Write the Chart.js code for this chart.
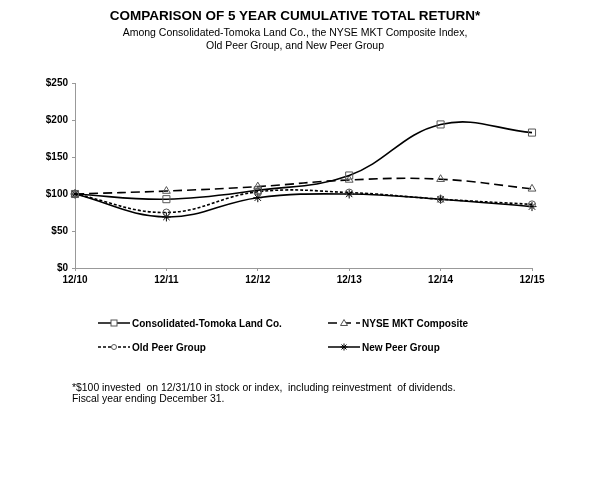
<!DOCTYPE html>
<html>
<head>
<meta charset="utf-8">
<script src="https://cdn.jsdelivr.net/npm/chart.js"></script>
<style>
  body { margin: 0; background: #fff; font-family: "Liberation Sans", Arial, sans-serif; }
  #wrap { position: relative; width: 590px; height: 491px; overflow: hidden; }
  #chart { position: absolute; left: 0; top: 0; }
  .title { position: absolute; left: 0; width: 590px; text-align: center; color: #000; }
  #t1 { top: 8px; font-size: 13.5px; font-weight: bold; }
  #t2 { top: 26px; font-size: 10.5px; line-height: 13px; }
  .leg { position: absolute; font-size: 10px; font-weight: bold; display: flex; align-items: center; white-space: nowrap; }
  .leg svg { margin-right: 2px; }
  .note { position: absolute; left: 72px; font-size: 10.4px; color: #000; }
</style>
</head>
<body>
<div id="wrap">
  <canvas id="chart" width="590" height="491"></canvas>
  <div class="title" id="t1">COMPARISON OF 5 YEAR CUMULATIVE TOTAL RETURN*</div>
  <div class="title" id="t2">Among Consolidated-Tomoka Land Co., the NYSE MKT Composite Index,<br>Old Peer Group, and New Peer Group</div>
  <div id="legend"></div>
  <div class="note" style="top:382px">*$100 invested&nbsp; on 12/31/10 in stock or index,&nbsp; including reinvestment&nbsp; of dividends.</div>
  <div class="note" style="top:393px">Fiscal year ending December 31.</div>
</div>
<script>
// Five year cumulative total return, $100 base
const years = ['12/10', '12/11', '12/12', '12/13', '12/14', '12/15'];
const tomoka = [100, 93, 105, 125, 194, 183];
const nyseMkt = [100, 104, 110, 119, 120, 107];
const oldPeer = [100, 75, 103, 102, 93, 86];
const newPeer = [100, 69, 95, 100, 93, 83];
const yTicks = [0, 50, 100, 150, 200, 250];

const seriesInfo = [
    { label: 'Consolidated-Tomoka Land Co.', data: tomoka, dash: [], point: 'rect', r: 5 },
    { label: 'NYSE MKT Composite', data: nyseMkt, dash: [9, 5], point: 'triangle', r: 4.5 },
    { label: 'Old Peer Group', data: oldPeer, dash: [3, 2], point: 'circle', r: 3.5 },
    { label: 'New Peer Group', data: newPeer, dash: [], point: 'star', r: 4.5 }
];

const ctx = document.getElementById('chart').getContext('2d');
new Chart(ctx, {
    type: 'line',
    data: {
        labels: years,
        datasets: seriesInfo.map(s => ({
            label: s.label,
            data: s.data,
            borderColor: '#000',
            borderWidth: 1.6,
            borderDash: s.dash,
            tension: 0.4,
            fill: false,
            pointStyle: s.point,
            pointRadius: s.r,
            pointBorderColor: s.point === 'star' ? '#000' : '#555',
            pointBorderWidth: 1,
            pointBackgroundColor: 'rgba(255,255,255,0)'
        }))
    },
    options: {
        responsive: false,
        animation: false,
        layout: { padding: { top: 83, right: 58, bottom: 203, left: 0 } },
        plugins: { legend: { display: false }, tooltip: { enabled: false } },
        scales: {
            x: {
                offset: false,
                afterFit: sc => { sc.height = 20; },
                grid: { drawOnChartArea: false, color: '#999', tickLength: 3 },
                border: { color: '#999' },
                ticks: { color: '#000', font: { family: 'Liberation Sans', size: 10, weight: 'bold' }, padding: 3, maxRotation: 0 }
            },
            y: {
                min: 0,
                max: 250,
                afterFit: sc => { sc.width = 75; },
                afterBuildTicks: sc => { sc.ticks = yTicks.map(v => ({ value: v })); },
                grid: { drawOnChartArea: false, color: '#999', tickLength: 3 },
                border: { color: '#999' },
                ticks: { color: '#000', font: { family: 'Liberation Sans', size: 10, weight: 'bold' }, padding: 4, callback: v => '$' + v }
            }
        }
    }
});

// legend, 2 x 2, with line sample and marker
function markerSvg(s) {
    const cx = 16, cy = 6;
    let m = '';
    if (s.point === 'rect') m = `<rect x="${cx - 3}" y="${cy - 3}" width="6" height="6" fill="#fff" stroke="#555"/>`;
    if (s.point === 'triangle') m = `<polygon points="${cx},${cy - 3.5} ${cx - 3.5},${cy + 2.5} ${cx + 3.5},${cy + 2.5}" fill="#fff" stroke="#555"/>`;
    if (s.point === 'circle') m = `<circle cx="${cx}" cy="${cy}" r="2.5" fill="#fff" stroke="#555"/>`;
    if (s.point === 'star') m = `<path d="M${cx - 3.5} ${cy}H${cx + 3.5}M${cx} ${cy - 3.5}V${cy + 3.5}M${cx - 2.5} ${cy - 2.5}L${cx + 2.5} ${cy + 2.5}M${cx - 2.5} ${cy + 2.5}L${cx + 2.5} ${cy - 2.5}" stroke="#000"/>`;
    const dash = s.dash.length ? `stroke-dasharray="${s.dash.join(' ')}"` : '';
    return `<svg width="32" height="12"><line x1="0" y1="${cy}" x2="32" y2="${cy}" stroke="#000" stroke-width="1.5" ${dash}/>${m}</svg>`;
}
const legendPos = [[98, 317], [328, 317], [98, 341], [328, 341]];
document.getElementById('legend').innerHTML = seriesInfo.map((s, i) =>
    `<div class="leg" style="left:${legendPos[i][0]}px;top:${legendPos[i][1]}px">${markerSvg(s)}${s.label}</div>`
).join('');
</script>
</body>
</html>
